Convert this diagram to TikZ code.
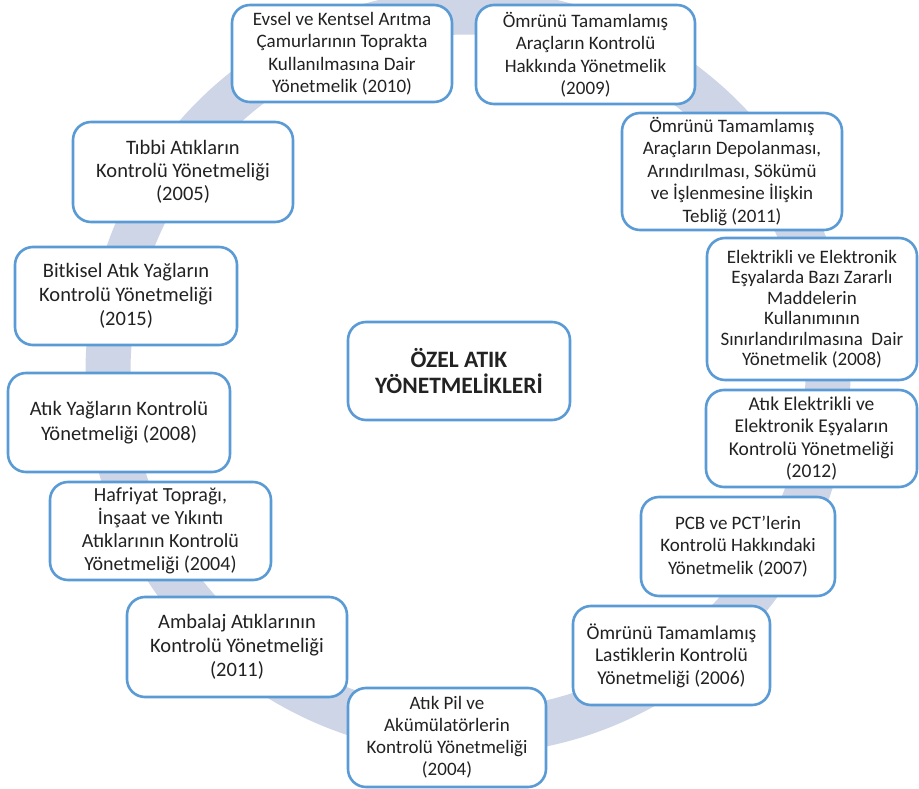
\documentclass[tikz,border=0pt]{standalone}
\usepackage{fontspec}
\setmainfont{Carlito}
\definecolor{ringfill}{HTML}{CDD5E6}
\definecolor{boxline}{HTML}{5B9BD5}
\definecolor{txt}{HTML}{222222}
\newcommand{\fs}[2]{\fontsize{#1}{#2}\selectfont}
\begin{document}
\begin{tikzpicture}[x=1pt,y=-1pt,
  card/.style={draw=boxline, line width=2.6pt, fill=white, rounded corners=18pt,
    align=center, inner sep=0pt, text=txt, font=\fs{19}{22.5}},
  bigtxt/.style={font=\fs{20.5}{24}},
  smalltxt/.style={font=\fs{19}{20.5}}]
\useasboundingbox (0,0) rectangle (919,789);
\fill[white] (0,0) rectangle (919,789);

% background cycle ring
\coordinate (hub) at (468,372);
\draw[ringfill, line width=45pt] (hub) circle[radius=360pt];

% regulation cards around the ring
\node[card, minimum width=220pt, minimum height=97pt] (evsel) at (342,53.5)
  {Evsel ve Kentsel Arıtma\\Çamurlarının Toprakta\\Kullanılmasına Dair\\Yönetmelik (2010)};
\node[card, minimum width=219pt, minimum height=99pt] (arac) at (585.5,54.5)
  {Ömrünü Tamamlamış\\Araçların Kontrolü\\Hakkında Yönetmelik\\(2009)};
\node[card, minimum width=220pt, minimum height=117pt] (depol) at (732,171.5)
  {Ömrünü Tamamlamış\\Araçların Depolanması,\\Arındırılması, Sökümü\\ve İşlenmesine İlişkin\\Tebliğ (2011)};
\node[card, smalltxt, minimum width=210pt, minimum height=142pt] (zarar) at (812,309)
  {Elektrikli ve Elektronik\\Eşyalarda Bazı Zararlı\\Maddelerin\\Kullanımının\\Sınırlandırılmasına~ Dair\\Yönetmelik (2008)};
\node[card, font=\fs{19.5}{22.5}, minimum width=211pt, minimum height=97pt] (eee) at (811.5,438.5)
  {Atık Elektrikli ve\\Elektronik Eşyaların\\Kontrolü Yönetmeliği\\(2012)};
\node[card, font=\fs{19}{22.5}, minimum width=194pt, minimum height=99pt] (pcb) at (738,546.5)
  {PCB ve PCT’lerin\\Kontrolü Hakkındaki\\Yönetmelik (2007)};
\node[card, font=\fs{19.5}{22.5}, minimum width=197pt, minimum height=99pt] (lastik) at (671.5,655.5)
  {Ömrünü Tamamlamış\\Lastiklerin Kontrolü\\Yönetmeliği (2006)};
\node[card, font=\fs{19}{22}, minimum width=198pt, minimum height=99pt] (pil) at (447,737.5)
  {Atık Pil ve\\Akümülatörlerin\\Kontrolü Yönetmeliği\\(2004)};
\node[card, bigtxt, minimum width=220pt, minimum height=100pt] (ambalaj) at (237,647)
  {Ambalaj Atıklarının\\Kontrolü Yönetmeliği\\(2011)};
\node[card, font=\fs{20}{23}, minimum width=221pt, minimum height=98pt] (hafriyat) at (160.5,531)
  {Hafriyat Toprağı,\\İnşaat ve Yıkıntı\\Atıklarının Kontrolü\\Yönetmeliği (2004)};
\node[card, font=\fs{20.5}{25}, minimum width=222pt, minimum height=99pt] (yag) at (119,422.5)
  {Atık Yağların Kontrolü\\Yönetmeliği (2008)};
\node[card, bigtxt, minimum width=222pt, minimum height=98pt] (bitkisel) at (126,296)
  {Bitkisel Atık Yağların\\Kontrolü Yönetmeliği\\(2015)};
\node[card, font=\fs{20.5}{23}, minimum width=220pt, minimum height=100pt] (tibbi) at (183,172)
  {Tıbbi Atıkların\\Kontrolü Yönetmeliği\\(2005)};

% central title card
\node[card, font=\fs{23.5}{26}\bfseries, minimum width=222pt, minimum height=98pt] (title) at (459,371)
  {ÖZEL ATIK\\YÖNETMELİKLERİ};
\end{tikzpicture}
\end{document}
